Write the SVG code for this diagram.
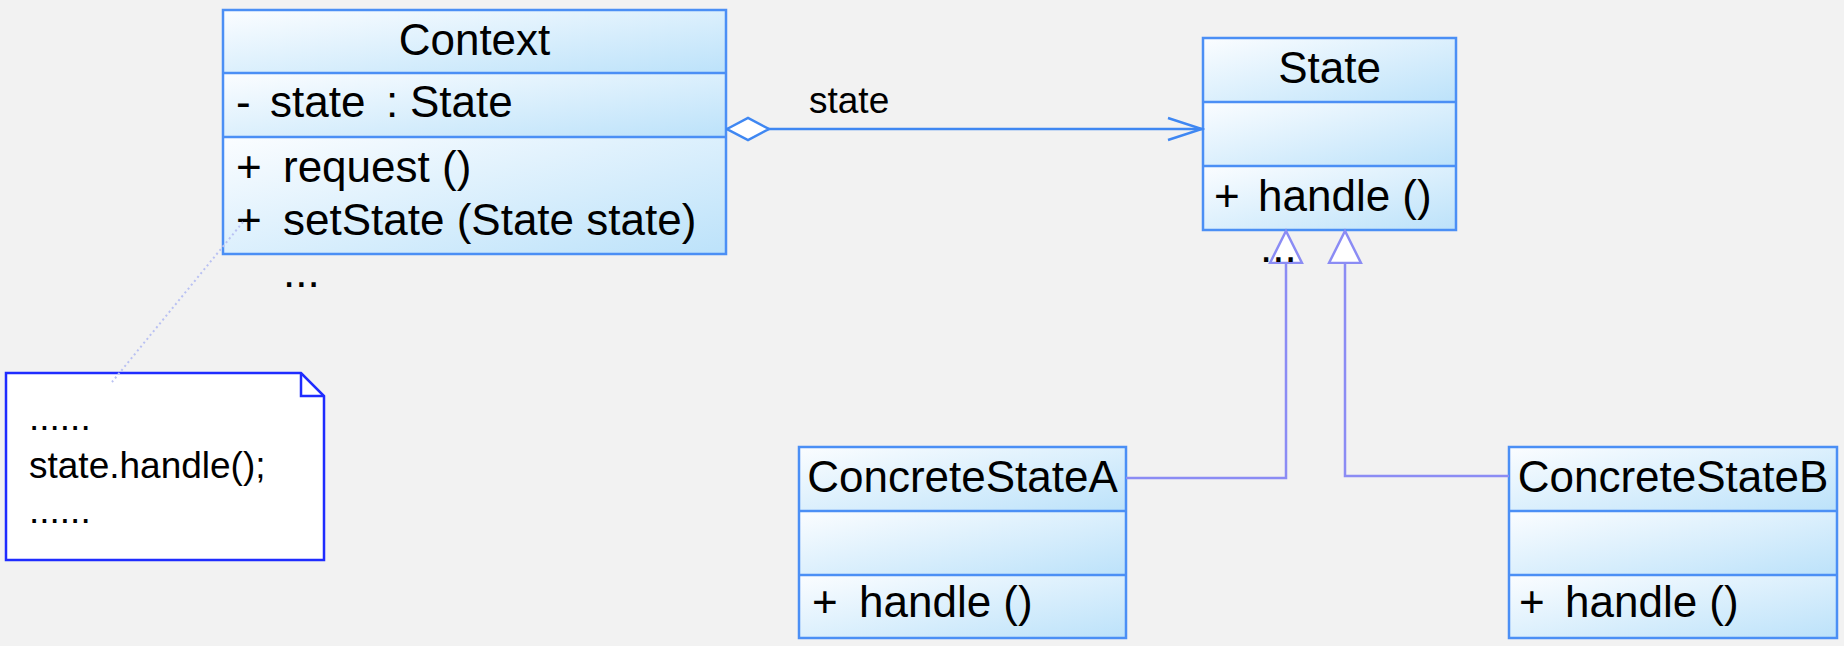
<svg xmlns="http://www.w3.org/2000/svg" width="1844" height="646" viewBox="0 0 1844 646">
<style>
.cls{stroke:#4b8ff5;stroke-width:2.5}
.cmp{fill:url(#g);stroke:none}
.div{stroke:#4b8ff5;stroke-width:2.5}
.t{font-family:"Liberation Sans",Arial,sans-serif;font-size:44px;fill:#000}
.tn{font-family:"Liberation Sans",Arial,sans-serif;font-size:37px;fill:#000}
.agg{fill:none;stroke:#3f87f2;stroke-width:2.5}
.gen{fill:none;stroke:#8b8cf4;stroke-width:2.5}
</style>
<defs>
<linearGradient id="g" x1="0" y1="0" x2="1" y2="1">
<stop offset="0" stop-color="#fbfdff"/>
<stop offset="1" stop-color="#bce2fa"/>
</linearGradient>
<marker id="dia" viewBox="0 0 46 26" refX="1" refY="13" markerWidth="46" markerHeight="26" markerUnits="userSpaceOnUse" orient="auto">
<path d="M1,13 L22,2 L43,13 L22,24 Z" fill="#fff" stroke="#3f87f2" stroke-width="2.5"/>
</marker>
<marker id="open" viewBox="0 0 38 26" refX="35" refY="13" markerWidth="38" markerHeight="26" markerUnits="userSpaceOnUse" orient="auto">
<path d="M1,2 L35,13 L1,24" fill="none" stroke="#3f87f2" stroke-width="2.5"/>
</marker>
<marker id="tri" viewBox="0 0 36 36" refX="33" refY="18" markerWidth="36" markerHeight="36" markerUnits="userSpaceOnUse" orient="auto">
<path d="M1,2 L33,18 L1,34 Z" fill="#fff" stroke="#8b8cf4" stroke-width="2.5"/>
</marker>
</defs>
<rect x="0" y="0" width="1844" height="646" fill="#f2f2f2"/>

<g id="Context">
<rect class="cmp" x="223" y="10" width="503" height="63"/>
<rect class="cmp" x="223" y="73" width="503" height="64"/>
<rect class="cmp" x="223" y="137" width="503" height="117"/>
<rect x="223" y="10" width="503" height="244" fill="none" class="cls"/>
<line class="div" x1="223" y1="73" x2="726" y2="73"/>
<line class="div" x1="223" y1="137" x2="726" y2="137"/>
<text class="t" x="474.5" y="55" text-anchor="middle">Context</text>
<text class="t" x="236" y="117">-</text>
<text class="t" x="270" y="117">state</text>
<text class="t" x="386" y="117">:</text>
<text class="t" x="410" y="117">State</text>
<text class="t" x="236" y="182">+</text>
<text class="t" x="283" y="182">request ()</text>
<text class="t" x="236" y="235">+</text>
<text class="t" x="283" y="235">setState (State state)</text>
<text class="t" x="283" y="287">...</text>
</g>

<g id="State">
<rect class="cmp" x="1203" y="38" width="253" height="64"/>
<rect class="cmp" x="1203" y="102" width="253" height="64"/>
<rect class="cmp" x="1203" y="166" width="253" height="64"/>
<rect x="1203" y="38" width="253" height="192" fill="none" class="cls"/>
<line class="div" x1="1203" y1="102" x2="1456" y2="102"/>
<line class="div" x1="1203" y1="166" x2="1456" y2="166"/>
<text class="t" x="1329.5" y="83" text-anchor="middle">State</text>
<text class="t" x="1214" y="211">+</text>
<text class="t" x="1258" y="211">handle ()</text>
</g>

<g id="ConcreteStateA">
<rect class="cmp" x="799" y="447" width="327" height="64"/>
<rect class="cmp" x="799" y="511" width="327" height="64"/>
<rect class="cmp" x="799" y="575" width="327" height="63"/>
<rect x="799" y="447" width="327" height="191" fill="none" class="cls"/>
<line class="div" x1="799" y1="511" x2="1126" y2="511"/>
<line class="div" x1="799" y1="575" x2="1126" y2="575"/>
<text class="t" x="962.5" y="492" text-anchor="middle">ConcreteStateA</text>
<text class="t" x="812" y="617">+</text>
<text class="t" x="859" y="617">handle ()</text>
</g>

<g id="ConcreteStateB">
<rect class="cmp" x="1509" y="447" width="328" height="64"/>
<rect class="cmp" x="1509" y="511" width="328" height="64"/>
<rect class="cmp" x="1509" y="575" width="328" height="63"/>
<rect x="1509" y="447" width="328" height="191" fill="none" class="cls"/>
<line class="div" x1="1509" y1="511" x2="1837" y2="511"/>
<line class="div" x1="1509" y1="575" x2="1837" y2="575"/>
<text class="t" x="1673" y="492" text-anchor="middle">ConcreteStateB</text>
<text class="t" x="1519" y="617">+</text>
<text class="t" x="1565" y="617">handle ()</text>
</g>

<g id="note">
<path d="M6,373 H301 L324,396 V560 H6 Z" fill="#fff" stroke="#1f2cff" stroke-width="2.5"/>
<path d="M301,373 V396 H324" fill="none" stroke="#1f2cff" stroke-width="2.5"/>
<text class="tn" x="29" y="430">......</text>
<text class="tn" x="29" y="478">state.handle();</text>
<text class="tn" x="29" y="523">......</text>
</g>

<g id="connectors">
<path class="agg" d="M727,129 H1202" marker-start="url(#dia)" marker-end="url(#open)"/>
<text class="tn" x="809" y="113">state</text>
<path class="gen" d="M1126,478 H1286 V231" marker-end="url(#tri)"/>
<path class="gen" d="M1509,476 H1345 V231" marker-end="url(#tri)"/>
<path d="M243,222 L112,382" fill="none" stroke="#b9c1f2" stroke-width="2" stroke-dasharray="2,3"/>
</g>

<text class="t" x="1260" y="262">...</text>
</svg>
